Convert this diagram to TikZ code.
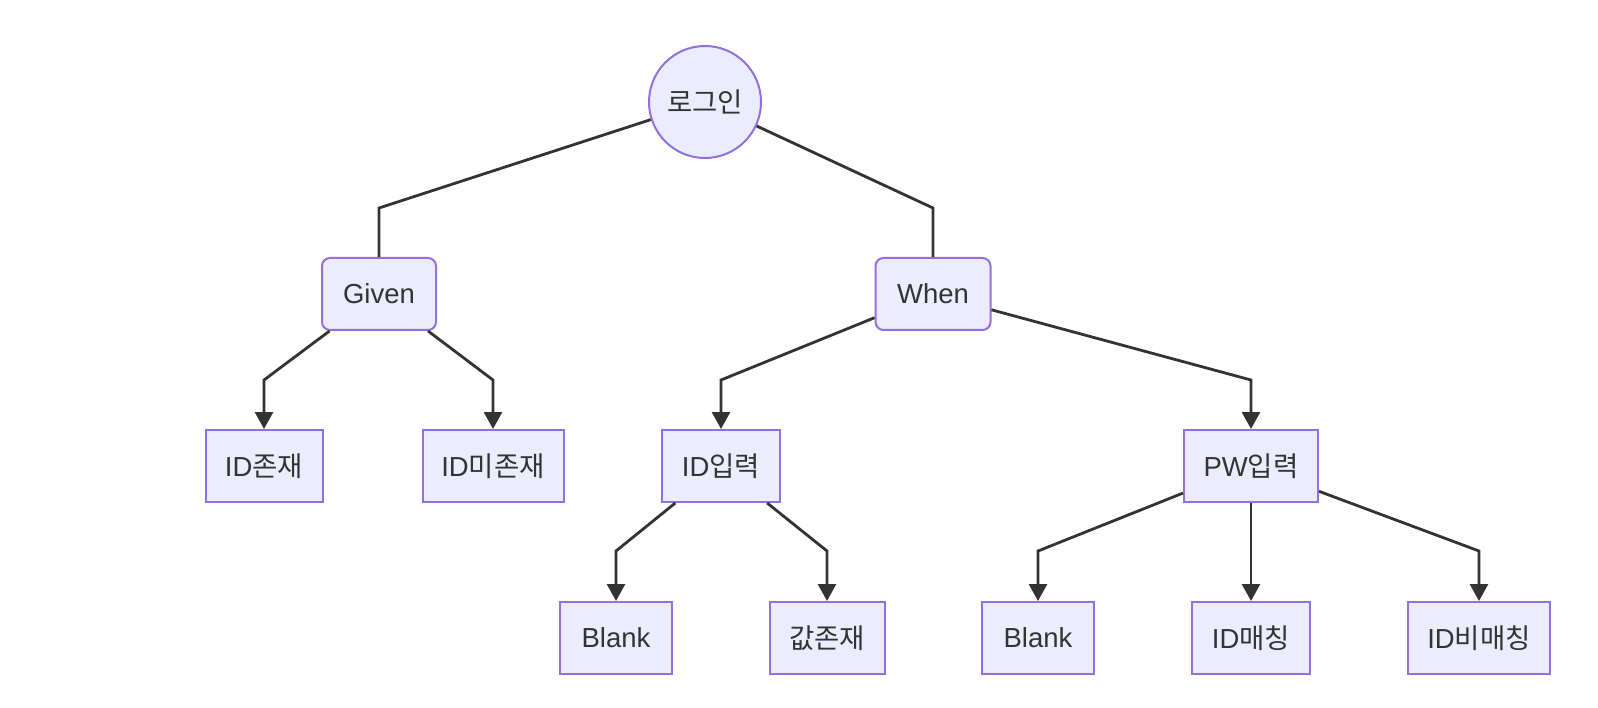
\documentclass[tikz,border=0pt]{standalone}
\usepackage{fontspec}
\setmainfont{Liberation Sans}
\newfontfamily\kr{Noto Sans CJK KR}
\usetikzlibrary{arrows.meta}
\definecolor{nfill}{HTML}{ECECFF}
\definecolor{nline}{HTML}{9370DB}
\definecolor{eline}{HTML}{333333}
\begin{document}
\begin{tikzpicture}[x=1pt,y=-1pt,
  every node/.style={font=\fontsize{27.5}{32}\selectfont, text=eline},
  box/.style={draw=nline, fill=nfill, line width=2pt, minimum height=72pt, inner sep=0pt},
  rbox/.style={box, rounded corners=8pt},
  circ/.style={draw=nline, fill=nfill, line width=2pt, circle, minimum size=112pt, inner sep=0pt},
  link/.style={draw=eline, line width=2.8pt},
  arr/.style={link, -{Triangle[length=17pt,width=18pt]}}]
\useasboundingbox (0,0) rectangle (1598,708);
\node[circ] (root) at (705,102) {\kr 로그인};
\node[rbox, minimum width=114pt] (given) at (379,294) {Given};
\node[rbox, minimum width=115pt] (when) at (933,294) {When};
\node[box, minimum width=117pt] (idex) at (264,466) {ID{\kr 존재}};
\node[box, minimum width=141pt] (idnex) at (493,466) {ID{\kr 미존재}};
\node[box, minimum width=118pt] (idin) at (721,466) {ID{\kr 입력}};
\node[box, minimum width=134pt] (pwin) at (1251,466) {PW{\kr 입력}};
\node[box, minimum width=112pt] (blank1) at (616,638) {Blank};
\node[box, minimum width=115pt] (valex) at (827,638) {{\kr 값존재}};
\node[box, minimum width=112pt] (blank2) at (1038,638) {Blank};
\node[box, minimum width=118pt] (idm) at (1251,638) {ID{\kr 매칭}};
\node[box, minimum width=142pt] (idnm) at (1479,638) {ID{\kr 비매칭}};
\coordinate (b1) at (379,208);
\coordinate (b2) at (933,208);
\coordinate (b3) at (264,380);
\coordinate (b4) at (493,380);
\coordinate (b5) at (721,380);
\coordinate (b6) at (1251,380);
\coordinate (b7) at (616,551);
\coordinate (b8) at (827,551);
\coordinate (b9) at (1038,551);
\coordinate (b10) at (1479,551);
\draw[link] (root) -- (b1) -- (given);
\draw[link] (root) -- (b2) -- (when);
\draw[arr] (given) -- (b3) -- (idex);
\draw[arr] (given) -- (b4) -- (idnex);
\draw[arr] (when) -- (b5) -- (idin);
\draw[arr] (when) -- (b6) -- (pwin);
\draw[arr] (idin) -- (b7) -- (blank1);
\draw[arr] (idin) -- (b8) -- (valex);
\draw[arr] (pwin) -- (b9) -- (blank2);
\draw[arr] (pwin) -- (idm);
\draw[arr] (pwin) -- (b10) -- (idnm);
\end{tikzpicture}
\end{document}
